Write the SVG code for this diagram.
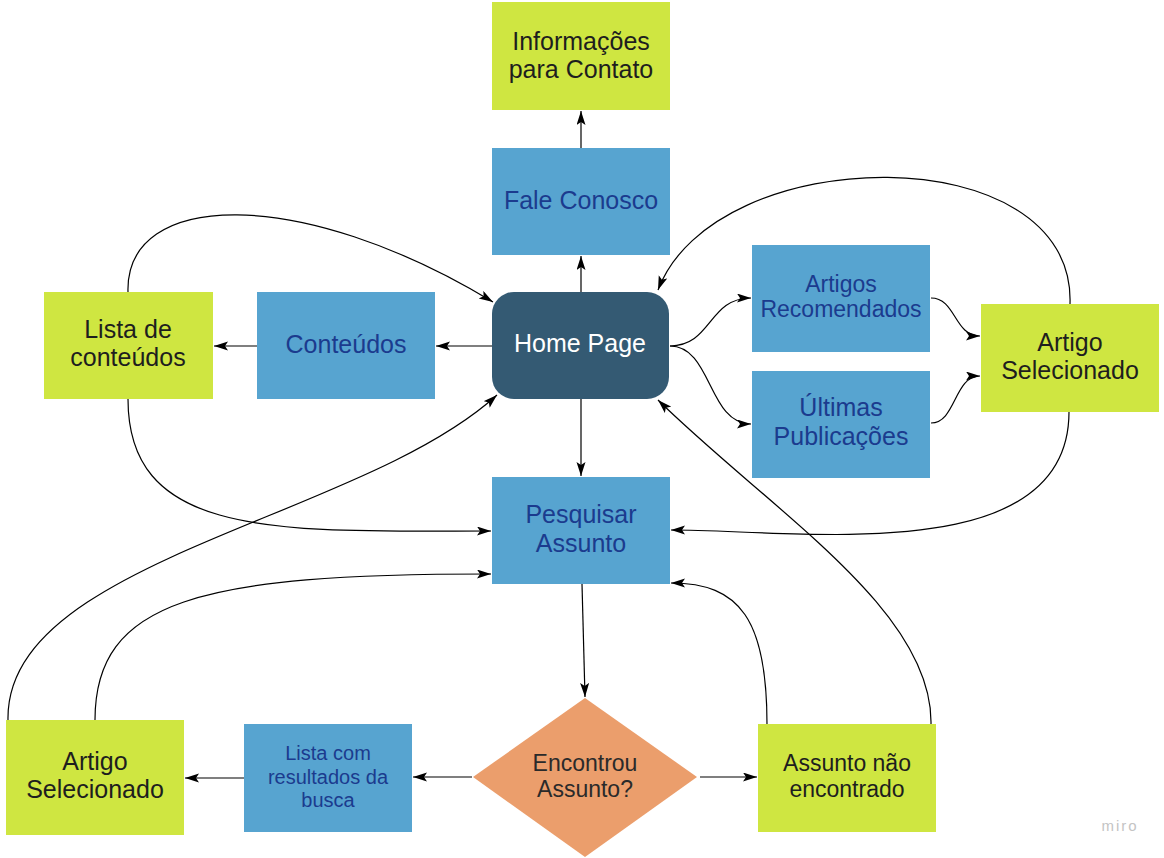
<svg xmlns="http://www.w3.org/2000/svg" width="1164" height="858" viewBox="0 0 1164 858">
<defs>
<marker id="arr" markerUnits="userSpaceOnUse" markerWidth="15" markerHeight="10" refX="14" refY="4.5" orient="auto">
<path d="M0,0 L14,4.5 L0,9 L3,4.5 z" fill="#000"/>
</marker>
<style>
.green{fill:#cfe641}
.blue{fill:#57a4d0}
.home{fill:#345a73}
.diamond{fill:#eb9e6c}
text{font-family:"Liberation Sans",Arial,sans-serif;text-anchor:middle}
.tg{fill:#1e1e1e;font-size:25px}
.tb{fill:#1b3b8e;font-size:25px}
.tw{fill:#ffffff;font-size:25px}
.edge{fill:none;stroke:#000;stroke-width:1.2;marker-end:url(#arr)}
</style>
</defs>
<rect width="1164" height="858" fill="#ffffff"/>

<g id="connectors">
<path class="edge" d="M581,292 L581,256"/>
<path class="edge" d="M581,148 L581,111"/>
<path class="edge" d="M492,346 L436,346"/>
<path class="edge" d="M257,346 L214,346"/>
<path class="edge" d="M581,399 L581,476"/>
<path class="edge" d="M582,584 L585,697"/>
<path class="edge" d="M472,777 L413,777"/>
<path class="edge" d="M244,778 L185,778"/>
<path class="edge" d="M700,777 L757,777"/>
<path class="edge" d="M128,292 C125,190 300,185 493,302"/>
<path class="edge" d="M128,399 C128,540 280,531 491,531"/>
<path class="edge" d="M8,720 C5,560 360,520 497,395"/>
<path class="edge" d="M95,720 C95,600 200,574 491,574"/>
<path class="edge" d="M767,724 C767,620 740,583 671,583"/>
<path class="edge" d="M931,724 C933,610 770,510 658,400"/>
<path class="edge" d="M670,346 C712,346 708,298 751,298"/>
<path class="edge" d="M670,346 C712,346 708,424 751,424"/>
<path class="edge" d="M931,298 C956,298 954,336 980,336"/>
<path class="edge" d="M931,423 C956,423 954,376 980,376"/>
<path class="edge" d="M1070,304 C1076,135 715,140 658,290"/>
<path class="edge" d="M1069,412 C1069,570 800,530 671,530"/>
</g>

<g id="info-contato">
<rect class="green" x="492" y="2" width="178" height="108"/>
<text class="tg" x="581" y="50">Informações</text>
<text class="tg" x="581" y="78">para Contato</text>
</g>
<g id="fale-conosco">
<rect class="blue" x="492" y="148" width="178" height="107"/>
<text class="tb" x="581" y="209">Fale Conosco</text>
</g>
<g id="home-page">
<rect class="home" x="492" y="292" width="177" height="107" rx="22" ry="22"/>
<text class="tw" x="580" y="352">Home Page</text>
</g>
<g id="conteudos">
<rect class="blue" x="257" y="292" width="178" height="107"/>
<text class="tb" x="346" y="353">Conteúdos</text>
</g>
<g id="lista-conteudos">
<rect class="green" x="44" y="292" width="169" height="107"/>
<text class="tg" x="128" y="338">Lista de</text>
<text class="tg" x="128" y="366">conteúdos</text>
</g>
<g id="artigos-recomendados">
<rect class="blue" x="752" y="245" width="178" height="107"/>
<text class="tb" x="841" y="292" style="font-size:23px">Artigos</text>
<text class="tb" x="841" y="317" style="font-size:23px">Recomendados</text>
</g>
<g id="ultimas-publicacoes">
<rect class="blue" x="752" y="371" width="178" height="107"/>
<text class="tb" x="841" y="416">Últimas</text>
<text class="tb" x="841" y="445">Publicações</text>
</g>
<g id="artigo-selecionado-1">
<rect class="green" x="981" y="304" width="178" height="108"/>
<text class="tg" x="1070" y="351">Artigo</text>
<text class="tg" x="1070" y="379">Selecionado</text>
</g>
<g id="pesquisar-assunto">
<rect class="blue" x="492" y="477" width="178" height="107"/>
<text class="tb" x="581" y="523">Pesquisar</text>
<text class="tb" x="581" y="552">Assunto</text>
</g>
<g id="encontrou-assunto">
<polygon class="diamond" points="585,698 697,777 585,857 473,777"/>
<text class="tg" x="585" y="771" style="font-size:23px;fill:#2a2a2a">Encontrou</text>
<text class="tg" x="585" y="797" style="font-size:23px;fill:#2a2a2a">Assunto?</text>
</g>
<g id="lista-resultados">
<rect class="blue" x="244" y="724" width="168" height="108"/>
<text class="tb" x="328" y="760" style="font-size:20px">Lista com</text>
<text class="tb" x="328" y="783.5" style="font-size:20px">resultados da</text>
<text class="tb" x="328" y="807" style="font-size:20px">busca</text>
</g>
<g id="artigo-selecionado-2">
<rect class="green" x="6" y="720" width="178" height="115"/>
<text class="tg" x="95" y="770">Artigo</text>
<text class="tg" x="95" y="798">Selecionado</text>
</g>
<g id="assunto-nao-encontrado">
<rect class="green" x="758" y="724" width="178" height="108"/>
<text class="tg" x="847" y="771" style="font-size:23px">Assunto não</text>
<text class="tg" x="847" y="797" style="font-size:23px">encontrado</text>
</g>
<text x="1120" y="831" style="font-size:15px;fill:#c4c4c4;letter-spacing:2px">miro</text>
</svg>
